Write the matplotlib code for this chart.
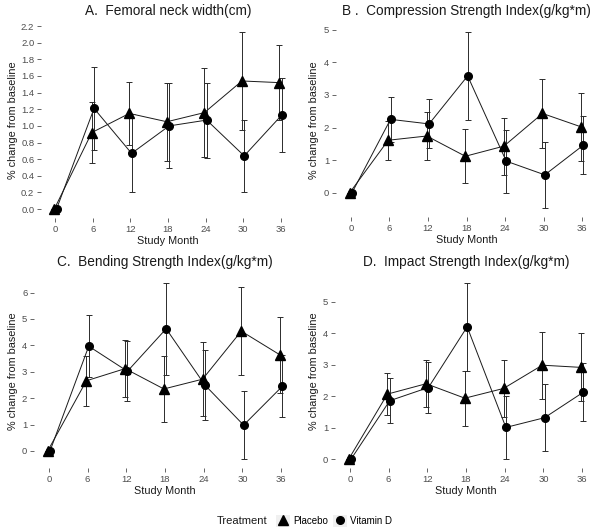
import numpy as np
import matplotlib
matplotlib.use("Agg")
import matplotlib.pyplot as plt
from matplotlib.lines import Line2D
from matplotlib.patches import Patch

plt.rcParams['font.family'] = ['Liberation Sans', 'DejaVu Sans']

### data ###
months = [0, 6, 12, 18, 24, 30, 36]

femoral_placebo = [0, 0.92, 1.15, 1.05, 1.16, 1.54, 1.52]
femoral_placebo_err = [0, 0.37, 0.38, 0.47, 0.53, 0.59, 0.45]
femoral_vitd = [0, 1.21, 0.67, 1.00, 1.07, 0.64, 1.13]
femoral_vitd_err = [0, 0.50, 0.47, 0.51, 0.45, 0.43, 0.44]

compress_placebo = [0, 1.61, 1.74, 1.12, 1.43, 2.43, 2.02]
compress_placebo_err = [0, 0.60, 0.73, 0.83, 0.87, 1.06, 1.05]
compress_vitd = [0, 2.25, 2.11, 3.58, 0.97, 0.55, 1.46]
compress_vitd_err = [0, 0.68, 0.75, 1.35, 0.96, 1.02, 0.88]

bending_placebo = [0, 2.66, 3.12, 2.35, 2.72, 4.54, 3.64]
bending_placebo_err = [0, 0.95, 1.07, 1.25, 1.40, 1.68, 1.43]
bending_vitd = [0, 3.97, 3.02, 4.63, 2.50, 0.98, 2.45]
bending_vitd_err = [0, 1.17, 1.13, 1.74, 1.32, 1.29, 1.18]

impact_placebo = [0, 2.07, 2.40, 1.94, 2.25, 2.99, 2.92]
impact_placebo_err = [0, 0.68, 0.75, 0.87, 0.90, 1.07, 1.08]
impact_vitd = [0, 1.86, 2.28, 4.21, 1.01, 1.32, 2.13]
impact_vitd_err = [0, 0.72, 0.82, 1.40, 0.99, 1.06, 0.93]

titles = ["A.  Femoral neck width(cm)",
          "B .  Compression Strength Index(g/kg*m)",
          "C.  Bending Strength Index(g/kg*m)",
          "D.  Impact Strength Index(g/kg*m)"]
treatments = ["Placebo", "Vitamin D"]

W, H = 600, 532
fig = plt.figure(figsize=(W / 100, H / 100), dpi=100)

def box(l, t, w, h):
    return [l / W, 1 - (t + h) / H, w / W, h / H]

### panel boxes in pixels (left, top, width, height), ylabel right edge in px ###
panels = [
    (box(41, 23, 254, 195), 18, femoral_placebo, femoral_placebo_err, femoral_vitd, femoral_vitd_err, np.arange(0, 2.21, 0.2), "{:.1f}"),
    (box(336, 23, 261, 194), 319, compress_placebo, compress_placebo_err, compress_vitd, compress_vitd_err, np.arange(0, 6), "{:.0f}"),
    (box(34, 274, 262, 194), 18, bending_placebo, bending_placebo_err, bending_vitd, bending_vitd_err, np.arange(0, 7), "{:.0f}"),
    (box(335, 274, 262, 194), 319, impact_placebo, impact_placebo_err, impact_vitd, impact_vitd_err, np.arange(0, 6), "{:.0f}"),
]

dodge = 0.18
x = np.array(months, dtype=float)

for i, (rect, ylab_x, p, pe, v, ve, yt, fmt) in enumerate(panels):
    ax = fig.add_axes(rect)
    for yy, ee, off, mk, ms in [(p, pe, -dodge, '^', 7.5), (v, ve, dodge, 'o', 5.5)]:
        yy = np.array(yy); ee = np.array(ee)
        ax.plot(x + off, yy, color='#1a1a1a', lw=0.7, zorder=2)
        ax.errorbar(x + off, yy, yerr=ee, fmt='none', ecolor='#2b2b2b',
                    elinewidth=0.7, capsize=2.4, capthick=0.7, zorder=3)
        ax.plot(x + off, yy, linestyle='none', marker=mk, ms=ms,
                color='black', zorder=4)
    lo = min(min(np.array(p) - pe), min(np.array(v) - ve))
    hi = max(max(np.array(p) + pe), max(np.array(v) + ve))
    pad = (hi - lo) * 0.05
    ax.set_ylim(lo - pad, hi + pad)
    ax.set_xlim(-2.3, 38.3)
    ax.set_xticks(months)
    ax.set_yticks(yt)
    ax.set_yticklabels([fmt.format(t) for t in yt])
    for s in ax.spines.values():
        s.set_visible(False)
    ax.tick_params(length=2.8, width=0.6, color='#4d4d4d', labelcolor='#4d4d4d',
                   labelsize=6.8, pad=2)
    ax.set_xlabel("Study Month", fontsize=7.8, labelpad=1.5, color='#1a1a1a')
    ax.set_ylabel("% change from baseline", fontsize=7.8, color='#1a1a1a')
    l_px = rect[0] * W
    w_px = rect[2] * W
    ax.yaxis.set_label_coords((ylab_x - l_px) / w_px, 0.5)
    ax.set_title(titles[i], fontsize=9.8, pad=6, color='#1a1a1a')

### legend ###
handles = [(Patch(facecolor='#f0f0f0', edgecolor='none'),
            Line2D([], [], linestyle='none', marker='^', ms=7, color='black')),
           (Patch(facecolor='#f0f0f0', edgecolor='none'),
            Line2D([], [], linestyle='none', marker='o', ms=5.5, color='black'))]
fig.text(242 / W, 1 - 521 / H, "Treatment", fontsize=8, ha='center', va='center', color='#1a1a1a')
fig.legend(handles, treatments, loc='center', bbox_to_anchor=(334 / W, 1 - 521 / H),
           ncol=2, frameon=False, fontsize=7, handlelength=1.5, handleheight=1.5,
           handletextpad=0.3, columnspacing=0.5)

plt.savefig("out.png", dpi=100)
